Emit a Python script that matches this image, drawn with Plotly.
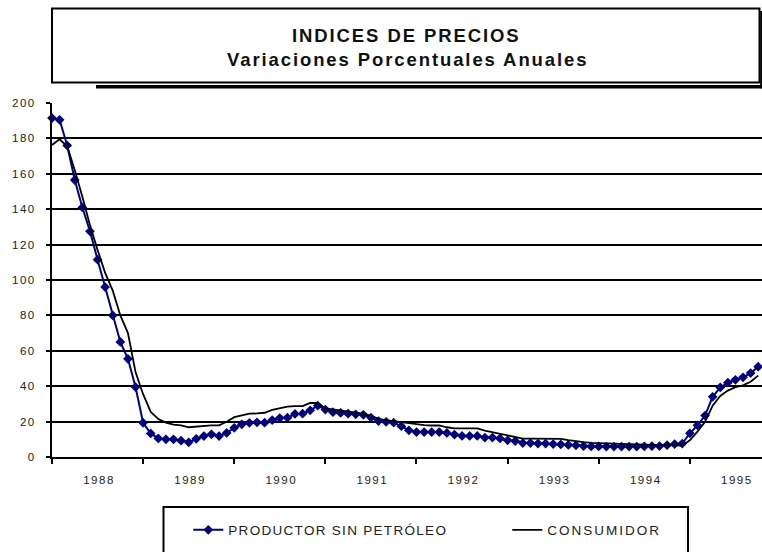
import plotly.graph_objects as go

# ---- data (monthly, starting January 1988) ----
years = ["1988", "1989", "1990", "1991", "1992", "1993", "1994", "1995"]

productor_sin_petroleo = [
    191.5, 190.5, 176.0, 156.5, 141.0, 127.5, 111.5, 96.0, 80.0, 65.0, 55.5, 39.5,
    19.3, 13.3, 10.5, 10.0, 10.0, 9.2, 8.3, 10.3, 11.8, 12.8, 11.8, 13.6,
    16.5, 18.5, 19.3, 19.6, 19.4, 20.8, 22.0, 22.2, 24.3, 24.5, 26.4, 29.0,
    26.8, 25.3, 24.9, 24.5, 24.1, 23.8, 22.3, 20.3, 19.9, 19.4, 17.4, 15.1,
    14.1, 14.1, 14.1, 14.1, 13.6, 12.7, 11.9, 11.9, 11.9, 11.0, 11.0, 10.5,
    9.4, 9.0, 7.9, 7.9, 7.6, 7.6, 7.3, 7.1, 6.8, 6.6, 6.2, 6.0,
    6.0, 5.9, 5.9, 5.9, 5.9, 5.9, 6.0, 6.1, 6.2, 6.7, 7.3, 7.6,
    13.4, 17.9, 23.4, 34.0, 39.3, 42.0, 43.6, 45.0, 47.4, 51.0,
]

consumidor = [
    176.3, 179.5, 175.5, 162.0, 147.0, 131.0, 117.0, 104.0, 94.0, 80.0, 70.0, 48.0,
    35.5, 25.5, 21.5, 19.4, 18.3, 17.9, 16.8, 17.2, 17.9, 17.9, 17.9, 19.9,
    22.5, 23.6, 24.5, 24.6, 25.0, 26.6, 27.6, 28.5, 28.7, 28.7, 30.5, 30.5,
    27.4, 26.8, 26.4, 25.8, 25.3, 24.5, 23.3, 21.5, 20.8, 20.2, 19.4, 18.8,
    18.2, 18.0, 17.8, 17.8, 16.8, 16.2, 16.2, 16.2, 16.2, 14.9, 14.0, 13.1,
    12.0, 11.0, 10.4, 10.4, 10.4, 10.4, 10.4, 10.2, 9.5, 8.8, 8.4, 8.0,
    7.8, 7.6, 7.4, 7.2, 7.1, 7.0, 7.0, 6.9, 6.8, 6.6, 6.4, 6.5,
    9.4, 14.3, 19.9, 29.0, 34.5, 37.5, 39.5, 40.5, 42.5, 46.0,
]

y_ticks = [0, 20, 40, 60, 80, 100, 120, 140, 160, 180, 200]

title_line1 = "INDICES DE PRECIOS"
title_line2 = "Variaciones Porcentuales Anuales"
name_prod = "PRODUCTOR SIN PETRÓLEO"
name_cons = "CONSUMIDOR"

months = list(range(len(productor_sin_petroleo)))

W, H = 762, 552
ML, MR, MT, MB = 52, 0, 103, 95
PW, PH = W - ML - MR, H - MT - MB


def px2x(px):
    return (px - ML) / PW


def py2y(py):
    return (H - MB - py) / PH


def spaced(text, sp):
    return f'<span style="letter-spacing:{sp}px">{text}</span>'


FONT = "Liberation Sans, Arial, sans-serif"
LEG_FONT = dict(family=FONT, size=13.5, color="#222222")

fig = go.Figure()
fig.add_trace(go.Scatter(
    x=months, y=productor_sin_petroleo, mode="lines+markers",
    name=spaced(name_prod, 1.3), legend="legend",
    line=dict(color="#000080", width=2),
    marker=dict(symbol="diamond", size=7.5, color="#000080"),
    cliponaxis=False,
))
fig.add_trace(go.Scatter(
    x=months, y=consumidor, mode="lines",
    name=spaced(name_cons, 2.0), legend="legend2",
    line=dict(color="#000000", width=1.8),
    cliponaxis=False,
))

fig.update_layout(
    width=W, height=H,
    margin=dict(l=ML, r=MR, t=MT, b=MB, pad=0, autoexpand=False),
    paper_bgcolor="white", plot_bgcolor="white",
    font=dict(family=FONT, color="#222222"),
    showlegend=True,
    legend=dict(
        orientation="h", x=px2x(188.3), y=py2y(530), xanchor="left", yanchor="middle",
        font=LEG_FONT, bgcolor="rgba(0,0,0,0)", borderwidth=0,
        itemclick=False, itemdoubleclick=False,
    ),
    legend2=dict(
        orientation="h", x=px2x(507.3), y=py2y(530), xanchor="left", yanchor="middle",
        font=LEG_FONT, bgcolor="rgba(0,0,0,0)", borderwidth=0,
        itemclick=False, itemdoubleclick=False,
    ),
    xaxis=dict(
        range=[0, 93.5], showgrid=False, zeroline=False,
        showline=True, linecolor="black", linewidth=2,
        tickmode="array", tickvals=[12 * i for i in range(len(years))],
        ticktext=[spaced(y, 1.5) for y in years],
        ticklabelshift=47,
        ticks="outside", ticklen=5, tickwidth=2, tickcolor="black",
        ticklabelstandoff=6,
        tickfont=dict(family=FONT, size=11.5, color="#222222"),
        fixedrange=True,
    ),
    yaxis=dict(
        range=[0, 200], tickmode="array", tickvals=y_ticks,
        ticktext=[spaced(str(v), 1.5) for v in y_ticks],
        showgrid=True, gridcolor="black", gridwidth=2,
        zeroline=False, showline=True, linecolor="black", linewidth=2,
        ticks="outside", ticklen=4, tickwidth=2, tickcolor="black",
        ticklabelstandoff=8,
        tickfont=dict(family=FONT, size=11.5, color="#222222"),
        fixedrange=True,
    ),
    shapes=[
        # title box
        dict(type="rect", xref="paper", yref="paper",
             x0=px2x(52), x1=px2x(759.5), y0=py2y(82.5), y1=py2y(8.5),
             line=dict(color="black", width=2), fillcolor="white", layer="above"),
        # shadow bottom
        dict(type="line", xref="paper", yref="paper",
             x0=px2x(96), x1=px2x(762), y0=py2y(86.7), y1=py2y(86.7),
             line=dict(color="black", width=3.5)),
        # shadow right
        dict(type="line", xref="paper", yref="paper",
             x0=px2x(761.2), x1=px2x(761.2), y0=py2y(11), y1=py2y(88.3),
             line=dict(color="black", width=2)),
        # legend box
        dict(type="rect", xref="paper", yref="paper",
             x0=px2x(163.5), x1=px2x(688), y0=py2y(560), y1=py2y(507),
             line=dict(color="black", width=2), fillcolor="rgba(0,0,0,0)"),
    ],
    annotations=[
        dict(text=f"<b>{spaced(title_line1, 1.9)}</b>", xref="paper", yref="paper",
             x=px2x(406), y=py2y(35), xanchor="center", yanchor="middle",
             showarrow=False, font=dict(family=FONT, size=18.5, color="#111111")),
        dict(text=f"<b>{spaced(title_line2, 1.9)}</b>", xref="paper", yref="paper",
             x=px2x(407), y=py2y(60), xanchor="center", yanchor="middle",
             showarrow=False, font=dict(family=FONT, size=18.5, color="#111111")),
    ],
)

fig.write_html(
    "out.html",
    config={"displayModeBar": False, "staticPlot": False},
    post_script="document.body.style.margin='0';document.body.style.overflow='hidden';",
)
